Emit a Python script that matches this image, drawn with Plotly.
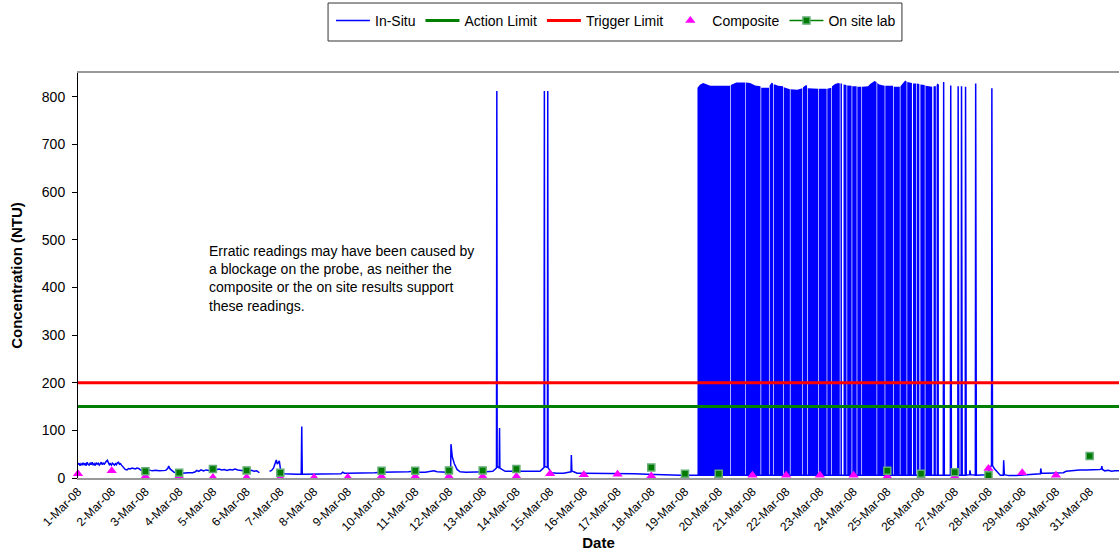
import pandas as pd
import plotly.graph_objects as go

START = pd.Timestamp("2008-03-01")

# In-situ probe turbidity: elapsed days since 1 Mar 2008 00:00 and NTU.
# None marks the logger outage on 6 March.
insitu_day = [
    0.00, 0.03, 0.06, 0.09, 0.12, 0.15, 0.18, 0.21, 0.24, 0.27,
    0.30, 0.33, 0.36, 0.39, 0.42, 0.45, 0.48, 0.51, 0.54, 0.57,
    0.60, 0.63, 0.66, 0.69, 0.72, 0.75, 0.78, 0.81, 0.84, 0.87,
    0.90, 0.93, 0.96, 0.99, 1.02, 1.05, 1.08, 1.11, 1.14, 1.17,
    1.20, 1.23, 1.26, 1.29, 1.32, 1.36, 1.40, 1.45, 1.50, 1.55,
    1.60, 1.65, 1.70, 1.75, 1.80, 1.85, 1.90, 2.00, 2.10, 2.20,
    2.30, 2.40, 2.50, 2.60, 2.66, 2.69, 2.73, 2.79, 2.85, 2.95,
    3.10, 3.25, 3.40, 3.48, 3.52, 3.58, 3.65, 3.72, 3.80, 3.88,
    3.95, 4.02, 4.10, 4.18, 4.26, 4.34, 4.42, 4.50, 4.58, 4.66,
    4.74, 4.82, 4.90, 4.98, 5.06, 5.14, 5.22, 5.30, 5.38, None,
    5.68, 5.74, 5.80, 5.85, 5.88, 5.91, 5.94, 5.97, 6.00, 6.03,
    6.10, 6.30, 6.50, 6.62, 6.635, 6.65, 6.80, 7.00, 7.20, 7.40,
    7.60, 7.80, 7.85, 7.90, 8.00, 8.20, 8.40, 8.60, 8.80, 9.00,
    9.20, 9.40, 9.60, 9.80, 9.94, 10.10, 10.30, 10.45, 10.55, 10.65,
    10.80, 10.94, 11.05, 11.06, 11.10, 11.16, 11.24, 11.33, 11.50, 11.70,
    11.90, 12.10, 12.30, 12.38, 12.41, 12.42, 12.43, 12.49, 12.50, 12.51,
    12.57, 12.67, 12.90, 13.20, 13.50, 13.70, 13.76, 13.82, 13.83, 13.84,
    13.92, 13.93, 13.94, 13.98, 14.05, 14.20, 14.40, 14.55, 14.62, 14.63,
    14.645, 14.70, 14.80, 15.00, 15.30, 15.60, 15.90, 16.20, 16.50, 16.87,
    17.20, 17.50, 17.86, 18.10, 18.37, 19.00, 20.00, 21.00, 22.00, 23.00,
    24.00, 25.00, 25.50, 25.66, 25.67, 25.69, 25.87, 25.88, 25.90, 26.09,
    26.10, 26.12, 26.19, 26.20, 26.22, 26.31, 26.32, 26.34, 26.44, 26.45,
    26.47, 26.61, 26.62, 26.64, 26.95, 27.00, 27.05, 27.09, 27.10, 27.12,
    27.17, 27.25, 27.35, 27.44, 27.45, 27.47, 27.60, 27.80, 28.00, 28.20,
    28.33, 28.50, 28.54, 28.55, 28.57, 28.70, 28.90, 29.10, 29.22, 29.30,
    29.40, 29.51, 29.70, 29.90, 30.10, 30.30, 30.35, 30.36, 30.38, 30.45,
    30.55, 30.65, 30.75, 30.90,
]
insitu_ntu = [
    28, 31, 26, 30, 27, 32, 28, 31, 26, 33,
    29, 27, 31, 28, 33, 27, 30, 26, 32, 29,
    31, 27, 30, 33, 28, 31, 29, 33, 35, 37,
    31, 28, 30, 27, 31, 29, 27, 30, 28, 32,
    33, 29, 30, 27, 25, 22, 18, 17, 20, 19,
    21, 20, 19, 21, 20, 17, 16, 16, 17, 15,
    16, 15, 15, 16, 20, 25, 19, 15, 12, 11,
    10, 11, 11, 13, 16, 14, 17, 15, 17, 16,
    18, 16, 17, 19, 17, 18, 16, 18, 17, 19,
    17, 16, 15, 17, 14, 16, 14, 15, 11, None,
    14, 16, 21, 30, 38, 29, 33, 36, 20, 11,
    9, 8, 8, 8, 108, 8, 8, 8, 8, 8,
    9, 9, 12, 10, 10, 10, 10, 11, 11, 12,
    12, 12, 12, 13, 14, 12, 12, 14, 15, 13,
    12, 12, 13, 71, 44, 30, 18, 13, 12, 12,
    12, 13, 14, 18, 21, 812, 24, 21, 105, 21,
    18, 14, 14, 14, 14, 14, 18, 22, 812, 24,
    22, 812, 22, 17, 11, 10, 10, 12, 13, 48,
    15, 13, 10, 10, 10, 10, 9, 9, 9, 8,
    7, 7, 6, 6, 6, 6, 5, 6, 5, 6,
    5, 6, 6, 6, 831, 6, 6, 824, 6, 6,
    822, 6, 6, 822, 6, 6, 821, 6, 7, 16,
    7, 6, 828, 6, 7, 14, 22, 27, 818, 26,
    20, 14, 6, 6, 37, 7, 5, 5, 6, 7,
    8, 8, 9, 20, 10, 10, 10, 10, 11, 14,
    15, 16, 17, 17, 17, 18, 19, 25, 18, 15,
    16, 14, 15, 15,
]

# Upper edge of each burst of erratic probe readings (19-26 March).
# None separates bursts; between spikes the probe read erratic_floor.
erratic_day = [
    18.37, 18.45, 18.54, 18.63, 18.75, 19.34, None,
    19.36, 19.43, 19.52, 19.79, None,
    19.81, 19.93, 20.08, 20.24, None,
    20.26, 20.49, None,
    20.51, 20.575, 20.61, None,
    20.63, 20.67, 20.76, 20.91, None,
    20.93, 21.02, 21.11, None,
    21.13, 21.21, 21.33, 21.48, None,
    21.50, 21.59, 21.62, None,
    21.64, 21.95, None,
    21.97, 22.20, None,
    22.22, 22.34, None,
    22.36, 22.45, 22.55, 22.59, None,
    22.61, 22.655, None,
    22.70, 22.79, None,
    22.81, 22.94, None,
    22.96, 23.09, None,
    23.11, 23.23, None,
    23.25, 23.43, 23.49, 23.62, 23.68, None,
    23.70, 23.76, 23.92, None,
    23.94, 24.17, None,
    24.19, 24.37, None,
    24.39, 24.47, 24.53, 24.57, None,
    24.59, 24.73, None,
    24.76, 24.85, None,
    24.87, 24.95, None,
    24.98, 25.11, None,
    25.13, 25.33, None,
    25.37, 25.44, None,
    25.46, 25.48, 25.53,
]
erratic_ntu = [
    819, 826, 829, 826, 823, 823, None,
    825, 827, 830, 830, None,
    830, 829, 824, 822, None,
    819, 819, None,
    824, 830, 828, None,
    826, 826, 823, 822, None,
    820, 818, 816, None,
    816, 816, 815, 818, None,
    820, 825, 823, None,
    818, 817, None,
    817, 817, None,
    817, 819, None,
    822, 827, 829, 828, None,
    828, 828, None,
    826, 825, None,
    824, 823, None,
    822, 822, None,
    821, 821, None,
    821, 822, 827, 833, 831, None,
    829, 826, 823, None,
    823, 823, None,
    821, 821, None,
    822, 828, 834, 832, None,
    831, 829, None,
    828, 828, None,
    828, 827, None,
    826, 825, None,
    823, 821, None,
    822, 822, None,
    824, 828, 826,
]
erratic_floor = 6

# Daily composite samples (1-30 March), NTU
composite_date = [f"2008-03-{d:02d}" for d in range(1, 31)]
composite_ntu = [
    9, 15, 3, 3, 1, 1, 1, 1, 1, 3,
    3, 3, 3, 3, 9, 7, 8, 4, 3, 3,
    6, 6, 6, 6, 3, 3, 3, 20, 11, 6,
]

# On-site laboratory results, NTU
lab_date = [
    "2008-03-03", "2008-03-04", "2008-03-05", "2008-03-06", "2008-03-07",
    "2008-03-10", "2008-03-11", "2008-03-12", "2008-03-13", "2008-03-14",
    "2008-03-18", "2008-03-19", "2008-03-20", "2008-03-25", "2008-03-26",
    "2008-03-27", "2008-03-28", "2008-03-31",
]
lab_ntu = [14, 11, 19, 16, 11, 15, 15, 16, 16, 19, 22, 9, 9, 15, 9, 12, 6, 46]

ACTION_LIMIT = 150
TRIGGER_LIMIT = 200
X_END_DAYS = 30.87


def to_time(days):
    return [None if d is None else START + pd.Timedelta(days=d) for d in days]


# Build one closed polygon per burst (top edge, then back along the floor)
burst_x, burst_y = [], []
seg_d, seg_v = [], []
for d, v in list(zip(erratic_day, erratic_ntu)) + [(None, None)]:
    if d is None:
        if seg_d:
            burst_x += seg_d + seg_d[::-1] + [None]
            burst_y += seg_v + [erratic_floor] * len(seg_d) + [None]
        seg_d, seg_v = [], []
    else:
        seg_d.append(d)
        seg_v.append(v)

FONT = "Liberation Sans, Arial, sans-serif"
BLUE = "#0000FF"

fig = go.Figure()

fig.add_trace(go.Scatter(
    x=to_time(burst_x), y=burst_y, mode="lines", fill="toself",
    fillcolor=BLUE, line=dict(color=BLUE, width=0),
    legendgroup="insitu", showlegend=False, hoverinfo="skip",
))
fig.add_trace(go.Scatter(
    x=to_time(insitu_day), y=insitu_ntu, mode="lines", name="In-Situ",
    line=dict(color=BLUE, width=1.5), legendgroup="insitu", connectgaps=False,
))

span = [START, START + pd.Timedelta(days=31)]
fig.add_trace(go.Scatter(
    x=span, y=[ACTION_LIMIT, ACTION_LIMIT], mode="lines", name="Action Limit",
    line=dict(color="#008000", width=3),
))
fig.add_trace(go.Scatter(
    x=span, y=[TRIGGER_LIMIT, TRIGGER_LIMIT], mode="lines", name="Trigger Limit",
    line=dict(color="#FF0000", width=3),
))
fig.add_trace(go.Scatter(
    x=pd.to_datetime(composite_date), y=composite_ntu, mode="markers",
    name="Composite", cliponaxis=False,
    marker=dict(symbol="triangle-up", size=9, color="#FF00FF"),
))

# Lab results: markers only on the plot, line + marker in the legend
lab_x, lab_y = [], []
for t, v in zip(pd.to_datetime(lab_date), lab_ntu):
    lab_x += [t, None]
    lab_y += [v, None]
fig.add_trace(go.Scatter(
    x=lab_x, y=lab_y, mode="lines+markers", name="On site lab",
    cliponaxis=False, connectgaps=False,
    line=dict(color="#008000", width=1.5),
    marker=dict(symbol="square", size=7, color="#007A00",
                line=dict(color="#62AD74", width=1.5)),
))

fig.add_annotation(
    xref="paper", yref="paper", x=0.1238, y=0.586,
    xanchor="left", yanchor="top", align="left", showarrow=False,
    text=("Erratic readings may have been caused by<br>"
          "a blockage on the probe, as neither the<br>"
          "composite or the on site results support<br>"
          "these readings."),
    font=dict(family=FONT, size=14, color="black"),
)

# Frame around the legend
fig.add_shape(
    type="rect", xref="paper", yref="paper",
    x0=0.2402, x1=0.7915, y0=1.079, y1=1.1728,
    line=dict(color="#333333", width=1), fillcolor="white", layer="below",
)

fig.update_layout(
    width=1119, height=556,
    margin=dict(l=78, r=0, t=73, b=78),
    paper_bgcolor="white", plot_bgcolor="white",
    font=dict(family=FONT, color="black"),
    legend=dict(
        orientation="h", x=0.5168, xanchor="center", y=1.1284, yanchor="middle",
        borderwidth=0, bgcolor="rgba(0,0,0,0)", itemwidth=34,
        font=dict(family=FONT, size=14, color="black"),
    ),
    xaxis=dict(
        type="date",
        range=[START, START + pd.Timedelta(days=X_END_DAYS)],
        tick0="2008-03-01", dtick=86400000, tickformat="%-d-%b-%y",
        tickangle=-45, tickfont=dict(size=12), ticks="",
        showline=True, linecolor="#999999", linewidth=2, mirror=True,
        showgrid=False, zeroline=False, automargin=False,
        title=dict(text="Date", font=dict(size=15, weight="bold"), standoff=3),
    ),
    yaxis=dict(
        range=[0, 850], tick0=0, dtick=100,
        ticks="outside", ticklen=5, tickcolor="black", tickwidth=1,
        tickfont=dict(size=14), ticklabelstandoff=4,
        showline=True, linecolor="black", linewidth=1,
        showgrid=False, zeroline=False, automargin=False,
        title=dict(text="Concentration (NTU)", font=dict(size=15, weight="bold"),
                   standoff=15),
    ),
)

fig.write_html("out.html")
